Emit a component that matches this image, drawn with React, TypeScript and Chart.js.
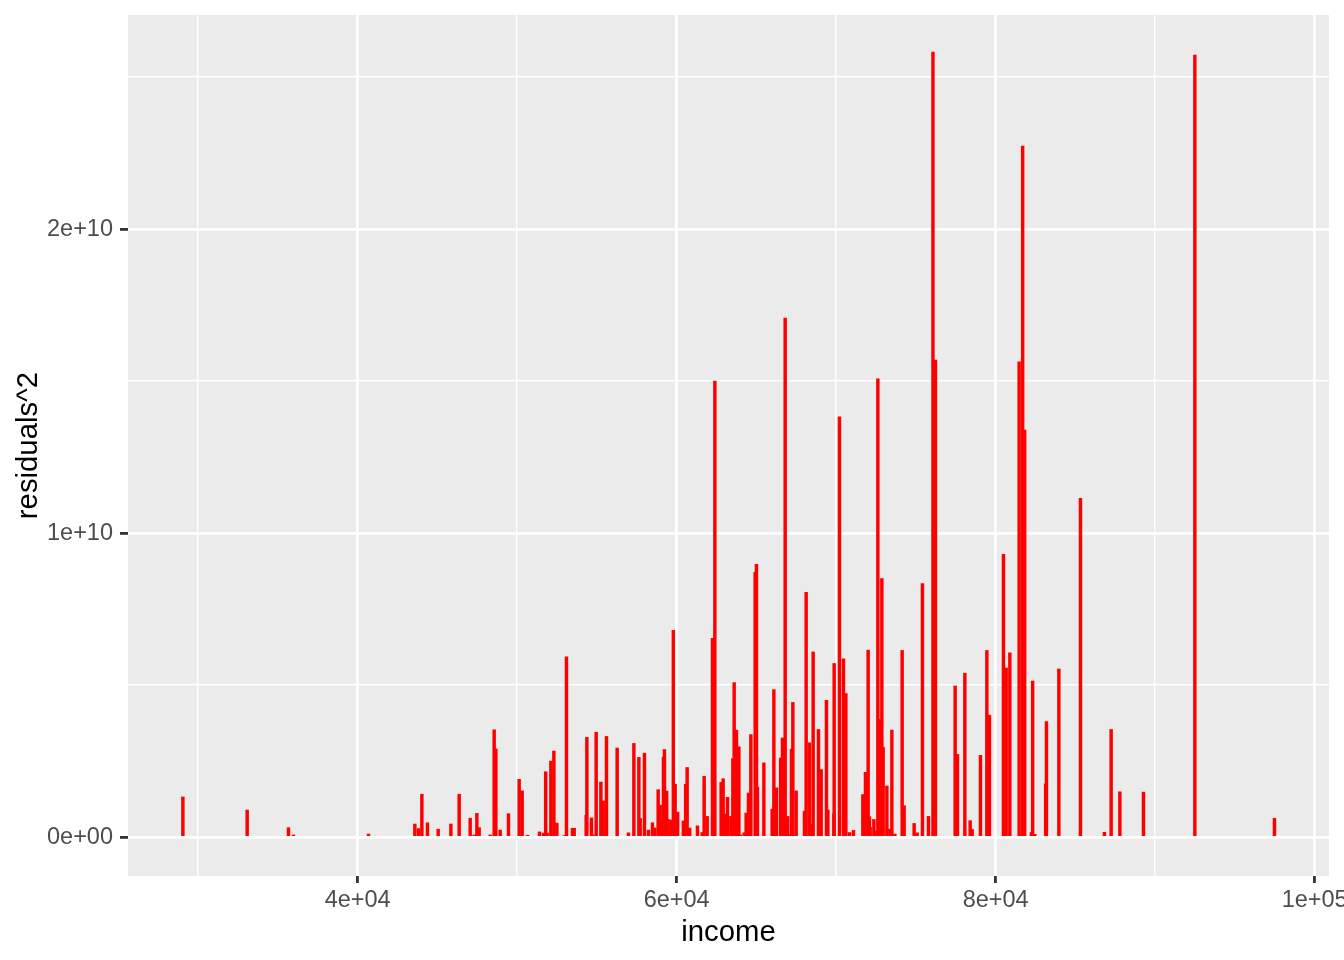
import React, { useEffect, useRef } from "react";
import { Chart, registerables } from "chart.js";

Chart.register(...registerables);

// income values (x) of each observation
const income: number[] = [
  29041, 33072, 35661, 35975, 40677, 43586, 43812, 44025, 44376, 45047,
  45843, 46364, 47053, 47304, 47473, 47618, 48307, 48558, 48665, 48934,
  49455, 50125, 50313, 50646, 51398, 51649, 51787, 51881, 52113, 52301,
  52489, 52947, 53091, 53467, 53574, 54326, 54370, 54658, 54784, 54953,
  55248, 55392, 55599, 56270, 56978, 57317, 57630, 57712, 57981, 58232,
  58483, 58633, 58840, 58965, 59080, 59172, 59235, 59373, 59467, 59655,
  59793, 59906, 60063, 60420, 60564, 60658, 60815, 61304, 61599, 61724,
  61912, 62245, 62395, 62790, 62915, 62997, 63185, 63398, 63523, 63605,
  63749, 63900, 64000, 64232, 64357, 64502, 64652, 64922, 65003, 65066,
  65467, 65988, 66094, 66260, 66520, 66633, 66803, 66959, 67116, 67197,
  67285, 67492, 68013, 68119, 68326, 68451, 68558, 68890, 69060, 69392,
  69480, 69856, 69875, 70207, 70458, 70608, 70834, 71085, 71674, 71837,
  72006, 72088, 72132, 72364, 72464, 72614, 72714, 72865, 72947, 73179,
  73367, 73492, 73680, 74138, 74263, 74890, 75078, 75411, 75787, 76069,
  76225, 77461, 77605, 78069, 78401, 78527, 79047, 79448, 79611, 80489,
  80658, 80890, 81473, 81693, 81818, 82244, 82320, 82458, 83135, 83185,
  83963, 85317, 86821, 87241, 87787, 89267, 92489, 97480,
];

// squared residuals (y) of each observation
const residualsSq: number[] = [
  1.32e9, 0.89e9, 0.31e9, 0.07e9, 0.10e9, 0.43e9, 0.28e9, 1.41e9, 0.47e9, 0.26e9,
  0.43e9, 1.41e9, 0.62e9, 0.07e9, 0.78e9, 0.31e9, 0.07e9, 3.53e9, 2.90e9, 0.23e9,
  0.77e9, 1.90e9, 1.52e9, 0.06e9, 0.17e9, 0.13e9, 2.15e9, 0.13e9, 2.50e9, 2.83e9,
  0.46e9, 0.05e9, 5.93e9, 0.29e9, 0.29e9, 0.72e9, 3.28e9, 0.63e9, 0.07e9, 3.45e9,
  1.81e9, 1.19e9, 3.31e9, 2.93e9, 0.14e9, 3.08e9, 2.62e9, 0.61e9, 2.76e9, 0.23e9,
  0.47e9, 0.30e9, 1.56e9, 1.05e9, 0.55e9, 2.63e9, 2.88e9, 1.51e9, 0.58e9, 0.56e9,
  6.80e9, 1.74e9, 0.82e9, 0.53e9, 1.74e9, 2.29e9, 0.30e9, 0.37e9, 0.15e9, 2.00e9,
  0.68e9, 6.54e9, 15.0e9, 1.80e9, 1.92e9, 0.76e9, 1.31e9, 0.68e9, 2.58e9, 5.08e9,
  3.52e9, 2.97e9, 0.07e9, 0.14e9, 0.79e9, 1.45e9, 3.37e9, 8.71e9, 8.97e9, 1.64e9,
  2.44e9, 0.92e9, 4.85e9, 1.62e9, 2.60e9, 3.26e9, 17.07e9, 0.68e9, 0.08e9, 2.89e9,
  4.43e9, 1.52e9, 0.85e9, 8.05e9, 3.10e9, 0.43e9, 6.09e9, 3.54e9, 2.22e9, 4.50e9,
  0.89e9, 0.76e9, 5.71e9, 13.82e9, 5.86e9, 4.72e9, 0.15e9, 0.22e9, 1.40e9, 2.13e9,
  6.15e9, 0.67e9, 0.32e9, 0.58e9, 0.20e9, 15.07e9, 3.87e9, 8.50e9, 2.95e9, 1.68e9,
  0.26e9, 3.52e9, 0.10e9, 6.14e9, 1.03e9, 0.45e9, 0.14e9, 8.34e9, 0.68e9, 25.82e9,
  15.69e9, 4.97e9, 2.72e9, 5.39e9, 0.54e9, 0.25e9, 2.69e9, 6.14e9, 4.01e9, 9.30e9,
  5.56e9, 6.06e9, 15.63e9, 22.73e9, 13.39e9, 0.15e9, 5.13e9, 0.09e9, 1.75e9, 3.80e9,
  5.53e9, 11.14e9, 0.16e9, 3.54e9, 1.49e9, 1.48e9, 25.72e9, 0.62e9,
];

const xMajorTicks: number[] = [40000, 60000, 80000, 100000];
const xTickLabels: string[] = ["4e+04", "6e+04", "8e+04", "1e+05"];
const xMinorTicks: number[] = [30000, 50000, 70000, 90000];
const yMajorTicks: number[] = [0, 1e10, 2e10];
const yTickLabels: string[] = ["0e+00", "1e+10", "2e+10"];
const yMinorTicks: number[] = [5e9, 1.5e10, 2.5e10];

const X_MIN = 25600;
const X_MAX = 100900;
const Y_MIN = -1.28e9;
const Y_MAX = 2.704e10;

const FONT = "'Liberation Sans', Arial, Helvetica, sans-serif";
const MAJOR_W = 2.8;
const MINOR_W = 1.4;

const panelBg = {
  id: "panelBg",
  beforeDraw(chart: any) {
    const { ctx, chartArea, width, height } = chart;
    ctx.save();
    ctx.fillStyle = "#FFFFFF";
    ctx.fillRect(0, 0, width, height);
    ctx.fillStyle = "#EBEBEB";
    ctx.fillRect(
      chartArea.left,
      chartArea.top,
      chartArea.right - chartArea.left,
      chartArea.bottom - chartArea.top
    );
    ctx.restore();
  },
};

export default function App() {
  const ref = useRef<HTMLCanvasElement | null>(null);

  useEffect(() => {
    if (!ref.current) return;
    const data = income.map((x, i) => ({ x, y: residualsSq[i] }));
    const chart = new Chart(ref.current, {
      type: "bar",
      data: {
        datasets: [
          {
            data,
            backgroundColor: "#FF0000",
            borderWidth: 0,
            barThickness: 2.8,
            grouped: false,
          } as any,
        ],
      },
      plugins: [panelBg],
      options: {
        responsive: false,
        animation: false,
        events: [],
        layout: { padding: { top: 15, right: 15, bottom: 0, left: 0 } },
        plugins: {
          legend: { display: false },
          tooltip: { enabled: false },
          title: { display: false },
        },
        scales: {
          x: {
            type: "linear",
            min: X_MIN,
            max: X_MAX,
            offset: false,
            border: { display: false },
            afterBuildTicks: (scale: any) => {
              scale.ticks = [...xMinorTicks, ...xMajorTicks]
                .sort((a, b) => a - b)
                .map((v) => ({ value: v }));
            },
            afterFit: (scale: any) => {
              scale.height = 84;
              scale.paddingLeft = 0;
              scale.paddingRight = 0;
            },
            grid: {
              offset: false,
              color: "#FFFFFF",
              lineWidth: (c: any) =>
                xMajorTicks.includes(c.tick?.value) ? MAJOR_W : MINOR_W,
              tickColor: (c: any) =>
                xMajorTicks.includes(c.tick?.value) ? "#333333" : "rgba(0,0,0,0)",
              tickWidth: MAJOR_W,
              tickLength: 7,
              drawTicks: true,
            },
            ticks: {
              autoSkip: false,
              maxRotation: 0,
              minRotation: 0,
              padding: 3,
              color: "#4D4D4D",
              font: { family: FONT, size: 23.5 },
              callback: (v: any) => {
                const i = xMajorTicks.indexOf(Number(v));
                return i >= 0 ? xTickLabels[i] : "";
              },
            },
            title: {
              display: true,
              text: "income",
              color: "#000000",
              font: { family: FONT, size: 29.3 },
              padding: { top: 0, bottom: 10 },
            },
          },
          y: {
            type: "linear",
            min: Y_MIN,
            max: Y_MAX,
            border: { display: false },
            afterBuildTicks: (scale: any) => {
              scale.ticks = [...yMajorTicks, ...yMinorTicks]
                .sort((a, b) => a - b)
                .map((v) => ({ value: v }));
            },
            afterFit: (scale: any) => {
              scale.width = 128;
              scale.paddingTop = 0;
              scale.paddingBottom = 0;
            },
            grid: {
              offset: false,
              color: "#FFFFFF",
              lineWidth: (c: any) =>
                yMajorTicks.includes(c.tick?.value) ? MAJOR_W : MINOR_W,
              tickColor: (c: any) =>
                yMajorTicks.includes(c.tick?.value) ? "#333333" : "rgba(0,0,0,0)",
              tickWidth: MAJOR_W,
              tickLength: 8,
              drawTicks: true,
            },
            ticks: {
              autoSkip: false,
              padding: 7,
              color: "#4D4D4D",
              font: { family: FONT, size: 23.5 },
              callback: (v: any) => {
                const i = yMajorTicks.indexOf(Number(v));
                return i >= 0 ? yTickLabels[i] : "";
              },
            },
            title: {
              display: true,
              text: "residuals^2",
              color: "#000000",
              font: { family: FONT, size: 29.3 },
              padding: { top: 11, bottom: 0 },
            },
          },
        },
      } as any,
    });
    return () => chart.destroy();
  }, []);

  return (
    <div style={{ position: "absolute", left: 0, top: 0, width: 1344, height: 960 }}>
      <canvas ref={ref} width={1344} height={960} />
    </div>
  );
}
